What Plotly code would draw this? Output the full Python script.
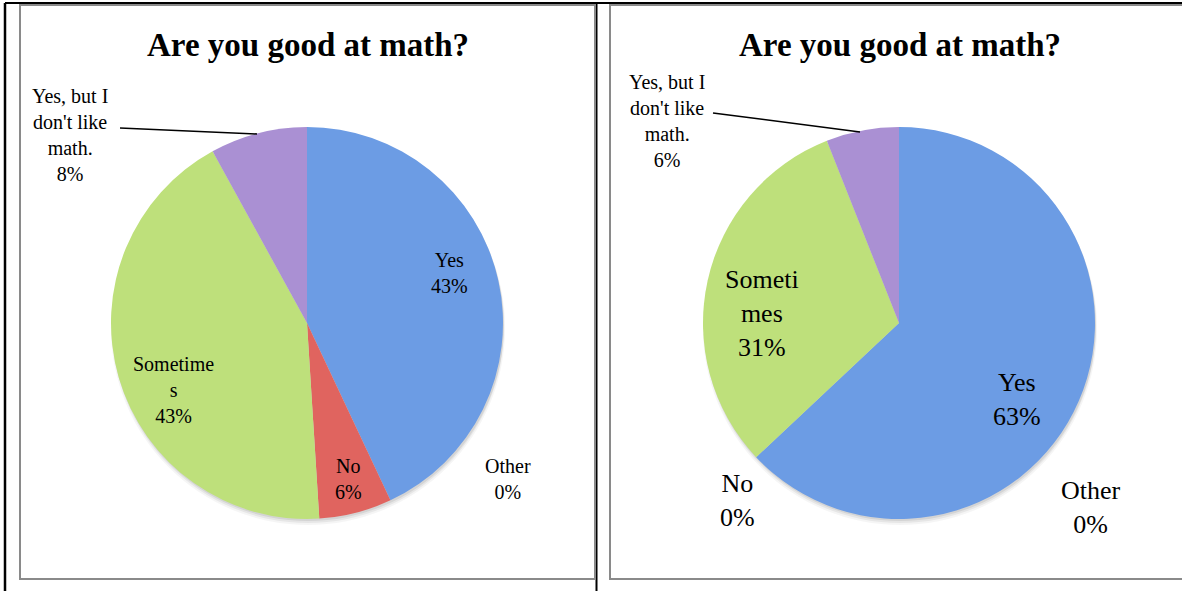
import plotly.graph_objects as go

# ---------------- data ----------------
categories = ["Yes", "Other", "No", "Sometimes", "Yes, but I don't like math."]
left_values = [43, 0, 6, 43, 8]      # percent
right_values = [63, 0, 0, 31, 6]     # percent
left_text_labels = ["Yes", "Other", "No", "Sometime<br>s", "Yes, but I<br>don't like<br>math."]
right_text_labels = ["Yes", "Other", "No", "Someti<br>mes", "Yes, but I<br>don't like<br>math."]
chart_title = "Are you good at math?"

# ---------------- styling ----------------
W, H = 1182, 591
slice_colors = ["#6C9CE4", "#F4B183", "#E0645F", "#BEE07B", "#AA90D3"]
FONT = "Liberation Serif, Times New Roman, serif"


def px(x):
    return x / W


def py(y):
    return 1 - y / H


# pie geometry (pixel centre + radius)
pies = [
    dict(cx=307, cy=323, r=196, values=left_values, labels=left_text_labels),
    dict(cx=899, cy=323, r=196, values=right_values, labels=right_text_labels),
]

# label placement (pixel centre, font size) for each pie, same order as categories
label_pos = [
    [(449, 273, 20), (508, 479, 20), (348, 479, 20), (173, 390, 20), (70, 135, 20)],
    [(1017, 399, 26), (1091, 507, 26), (737, 500, 26), (762, 313, 26), (667, 121, 20)],
]
leaders = [((120, 128), (257, 134)), ((713, 113), (860, 132))]
title_pos = [(308, 45), (900, 45)]

fig = go.Figure()

# soft shadow layers (mostly below / right of the pie)
for p in pies:
    for dx, dy, dr, a in [(1, 5, 1, 0.04), (1, 4, 0, 0.06), (1, 2, 0, 0.08)]:
        cx, cy, r = p["cx"] + dx, p["cy"] + dy, p["r"] + dr
        fig.add_trace(go.Pie(
            values=[1], labels=["shadow"], sort=False, textinfo="none",
            hoverinfo="skip", showlegend=False,
            marker=dict(colors=[f"rgba(0,0,0,{a})"], line=dict(width=0)),
            domain=dict(x=[px(cx - r), px(cx + r)], y=[py(cy + r), py(cy - r)]),
        ))

for p in pies:
    cx, cy, r = p["cx"], p["cy"], p["r"]
    fig.add_trace(go.Pie(
        values=p["values"], labels=categories, sort=False, direction="clockwise",
        rotation=0, textinfo="none", hoverinfo="label+percent", showlegend=False,
        marker=dict(colors=slice_colors, line=dict(width=0)),
        domain=dict(x=[px(cx - r), px(cx + r)], y=[py(cy + r), py(cy - r)]),
    ))

shapes = []
# table cell borders (black)
shapes.append(dict(type="line", xref="paper", yref="paper", x0=px(5), x1=1.0, y0=py(3), y1=py(3),
                   line=dict(color="black", width=2)))
shapes.append(dict(type="line", xref="paper", yref="paper", x0=px(5), x1=px(5), y0=py(3), y1=0,
                   line=dict(color="black", width=2.5)))
shapes.append(dict(type="line", xref="paper", yref="paper", x0=px(596.5), x1=px(596.5), y0=py(3), y1=0,
                   line=dict(color="black", width=2)))
# chart boxes (gray)
shapes.append(dict(type="rect", xref="paper", yref="paper", x0=px(20), x1=px(595), y0=py(579), y1=py(5),
                   line=dict(color="#8A8A8A", width=2), fillcolor="rgba(0,0,0,0)"))
shapes.append(dict(type="rect", xref="paper", yref="paper", x0=px(610), x1=px(1190), y0=py(579), y1=py(5),
                   line=dict(color="#8A8A8A", width=2), fillcolor="rgba(0,0,0,0)"))
# leader lines
for (x0, y0), (x1, y1) in leaders:
    shapes.append(dict(type="line", xref="paper", yref="paper", x0=px(x0), x1=px(x1), y0=py(y0), y1=py(y1),
                       line=dict(color="black", width=1.5)))

annotations = []
for (tx, ty) in title_pos:
    annotations.append(dict(text=f"<b>{chart_title}</b>", x=px(tx), y=py(ty), xref="paper", yref="paper",
                            showarrow=False, xanchor="center", yanchor="middle",
                            font=dict(family=FONT, size=33, color="black")))

for p, positions in zip(pies, label_pos):
    for lab, val, (lx, ly, fs) in zip(p["labels"], p["values"], positions):
        annotations.append(dict(text=f"{lab}<br>{round(val)}%", x=px(lx), y=py(ly), xref="paper", yref="paper",
                                showarrow=False, xanchor="center", yanchor="middle", align="center",
                                font=dict(family=FONT, size=fs, color="black")))

fig.update_layout(
    width=W, height=H, margin=dict(l=0, r=0, t=0, b=0),
    paper_bgcolor="white", plot_bgcolor="white",
    shapes=shapes, annotations=annotations,
)

fig.write_html("out.html", config={"displayModeBar": False},
               post_script="document.body.style.margin='0';document.body.style.overflow='hidden';")
